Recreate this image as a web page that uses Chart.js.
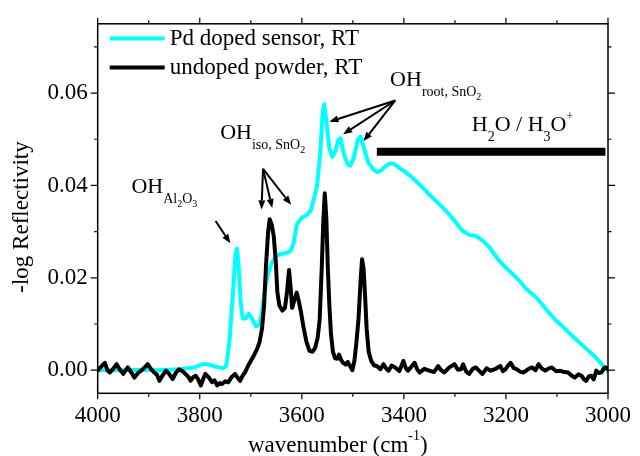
<!DOCTYPE html>
<html>
<head>
<meta charset="utf-8">
<script src="https://cdn.jsdelivr.net/npm/chart.js@4"></script>
<style>
  body { margin: 0; background: #fff; }
  #wrap { width: 640px; height: 456px; }
</style>
</head>
<body>
<div id="wrap"><canvas id="spectra" width="640" height="456"></canvas></div>
<script>
// values
var pdWavenumber = [4000, 3960, 3920, 3880, 3840, 3810, 3795, 3785, 3770, 3755, 3748, 3742, 3736, 3730, 3727, 3724, 3720, 3716, 3710, 3704, 3698, 3690, 3684, 3678, 3672, 3666, 3660, 3650, 3640, 3630, 3622, 3616, 3610, 3600, 3590, 3583, 3576, 3570, 3564, 3559, 3556, 3552, 3546, 3540, 3534, 3528, 3524, 3518, 3510, 3505, 3498, 3490, 3485, 3478, 3470, 3460, 3452, 3444, 3436, 3426, 3418, 3408, 3398, 3388, 3375, 3362, 3350, 3336, 3322, 3311, 3298, 3285, 3272, 3260, 3246, 3233, 3222, 3214, 3200, 3182, 3170, 3162, 3150, 3140, 3128, 3117, 3104, 3091, 3078, 3065, 3052, 3040, 3030, 3020, 3010, 3004, 3000];
var pdSignal = [0.0000, 0.0000, 0.0001, 0.0000, 0.0002, 0.0006, 0.0013, 0.0013, 0.0008, 0.0004, 0.0010, 0.0060, 0.0150, 0.0250, 0.0263, 0.0230, 0.0150, 0.0112, 0.0112, 0.0122, 0.0112, 0.0095, 0.0098, 0.0125, 0.0180, 0.0208, 0.0230, 0.0248, 0.0252, 0.0254, 0.0258, 0.0275, 0.0315, 0.0330, 0.0336, 0.0345, 0.0372, 0.0400, 0.0470, 0.0560, 0.0576, 0.0540, 0.0480, 0.0462, 0.0475, 0.0500, 0.0502, 0.0470, 0.0445, 0.0443, 0.0460, 0.0500, 0.0506, 0.0480, 0.0450, 0.0435, 0.0429, 0.0433, 0.0442, 0.0448, 0.0446, 0.0437, 0.0430, 0.0421, 0.0408, 0.0394, 0.0380, 0.0365, 0.0350, 0.0337, 0.0320, 0.0302, 0.0293, 0.0291, 0.0281, 0.0267, 0.0250, 0.0238, 0.0222, 0.0203, 0.0189, 0.0178, 0.0166, 0.0157, 0.0141, 0.0126, 0.0110, 0.0097, 0.0083, 0.0069, 0.0056, 0.0044, 0.0034, 0.0023, 0.0010, 0.0003, -0.0003];

var undopedWavenumber = [4000, 3993, 3986, 3981, 3976, 3969, 3963, 3957, 3950, 3945, 3941, 3934, 3928, 3921, 3915, 3908, 3902, 3895, 3889, 3884, 3879, 3872, 3866, 3860, 3853, 3847, 3841, 3834, 3828, 3822, 3818, 3813, 3808, 3803, 3798, 3793, 3789, 3782, 3776, 3771, 3766, 3761, 3757, 3750, 3744, 3737, 3731, 3726, 3721, 3716, 3711, 3706, 3700, 3694, 3688, 3683, 3678, 3674, 3670, 3666, 3663, 3659, 3655, 3651, 3648, 3644, 3638, 3633, 3629, 3625, 3622, 3619, 3615, 3610, 3606, 3602, 3597, 3591, 3585, 3579, 3574, 3569, 3565, 3561, 3558, 3555, 3552, 3549, 3546, 3543, 3539, 3535, 3530, 3527, 3523, 3519, 3514, 3510, 3505, 3501, 3497, 3493, 3489, 3485, 3482, 3479, 3476, 3473, 3469, 3464, 3458, 3453, 3446, 3440, 3435, 3430, 3424, 3417, 3409, 3401, 3396, 3392, 3385, 3379, 3374, 3369, 3360, 3350, 3341, 3333, 3327, 3321, 3311, 3301, 3294, 3288, 3284, 3278, 3272, 3265, 3259, 3252, 3246, 3238, 3230, 3220, 3211, 3206, 3201, 3196, 3191, 3185, 3179, 3172, 3166, 3157, 3149, 3142, 3136, 3130, 3123, 3116, 3110, 3102, 3094, 3086, 3078, 3071, 3065, 3058, 3052, 3047, 3043, 3038, 3033, 3028, 3023, 3018, 3013, 3008, 3004, 3000];
var undopedSignal = [-0.0001, 0.0008, 0.0016, 0.0000, -0.0005, 0.0004, 0.0013, 0.0002, -0.0008, 0.0000, 0.0006, -0.0005, -0.0016, -0.0006, -0.0001, 0.0006, 0.0013, 0.0002, -0.0005, -0.0010, -0.0023, -0.0010, -0.0001, -0.0008, -0.0019, -0.0006, 0.0002, -0.0002, -0.0008, -0.0015, -0.0023, -0.0015, -0.0012, -0.0020, -0.0033, -0.0018, -0.0008, -0.0016, -0.0026, -0.0022, -0.0033, -0.0028, -0.0030, -0.0024, -0.0026, -0.0014, -0.0008, -0.0016, -0.0023, -0.0012, -0.0004, 0.0008, 0.0020, 0.0032, 0.0045, 0.0060, 0.0090, 0.0140, 0.0230, 0.0300, 0.0327, 0.0315, 0.0290, 0.0235, 0.0170, 0.0140, 0.0129, 0.0135, 0.0170, 0.0217, 0.0180, 0.0135, 0.0150, 0.0168, 0.0150, 0.0128, 0.0095, 0.0062, 0.0042, 0.0040, 0.0048, 0.0070, 0.0110, 0.0220, 0.0320, 0.0383, 0.0330, 0.0220, 0.0140, 0.0080, 0.0040, 0.0026, 0.0025, 0.0034, 0.0022, 0.0016, 0.0012, 0.0018, 0.0008, 0.0000, 0.0020, 0.0060, 0.0110, 0.0190, 0.0240, 0.0220, 0.0160, 0.0090, 0.0040, 0.0020, 0.0010, 0.0009, 0.0002, 0.0013, 0.0004, -0.0001, 0.0010, 0.0006, -0.0002, 0.0020, 0.0004, -0.0001, 0.0008, 0.0016, 0.0002, -0.0005, 0.0003, -0.0001, -0.0004, 0.0009, 0.0000, -0.0005, 0.0006, 0.0013, 0.0001, 0.0002, 0.0013, -0.0003, -0.0008, 0.0003, 0.0006, -0.0002, -0.0008, 0.0004, -0.0001, 0.0003, 0.0009, -0.0002, 0.0002, 0.0010, 0.0016, 0.0005, 0.0002, -0.0003, -0.0005, 0.0002, 0.0006, 0.0000, 0.0013, 0.0004, -0.0001, 0.0004, 0.0006, -0.0002, -0.0001, -0.0004, -0.0005, -0.0012, -0.0016, -0.0009, -0.0012, -0.0020, -0.0023, -0.0014, -0.0012, -0.0020, -0.0001, -0.0006, -0.0005, 0.0004, 0.0006, 0.0002];

var xTicks = [4000, 3800, 3600, 3400, 3200, 3000];
var yTicks = [0, 0.02, 0.04, 0.06];

// annotations, in data units (wavenumber, value)
var arrows = [
  [3769, 0.0323, 3740, 0.0275],
  [3676, 0.0436, 3679, 0.0348],
  [3676, 0.0436, 3658, 0.0351],
  [3676, 0.0436, 3621, 0.0358],
  [3417, 0.0584, 3546, 0.0538],
  [3417, 0.0584, 3519, 0.0511],
  [3417, 0.0584, 3479, 0.0496]
];
var waterBand = [3453, 3005, 0.0473];
var notes = [
  [3934, 0.0384, [['OH', 'n'], ['Al', 's'], ['2', 'ss'], ['O', 's'], ['3', 'ss']]],
  [3760, 0.0500, [['OH', 'n'], ['iso, SnO', 's'], ['2', 'ss']]],
  [3427, 0.0616, [['OH', 'n'], ['root, SnO', 's'], ['2', 'ss']]],
  [3267, 0.0517, [['H', 'n'], ['2', 's'], ['O / H', 'n'], ['3', 's'], ['O', 'n'], ['+', 'sup']]]
];

var serif = 'Liberation Serif';
Chart.defaults.font.family = serif;

function pairs(xs, ys) {
  return xs.map(function (x, i) { return { x: x, y: ys[i] }; });
}

function richText(ctx, x, y, parts) {
  var styles = {
    n: { size: 22, dy: 0 },
    s: { size: 14, dy: 10 },
    ss: { size: 10, dy: 14 },
    sup: { size: 12, dy: -11 }
  };
  ctx.textAlign = 'left';
  ctx.textBaseline = 'alphabetic';
  parts.forEach(function (p) {
    var st = styles[p[1]];
    ctx.font = st.size + 'px "' + serif + '"';
    ctx.fillText(p[0], x, y + st.dy);
    x += ctx.measureText(p[0]).width;
  });
}

var decorations = {
  id: 'decorations',
  afterDatasetsDraw: function (chart) {
    var ctx = chart.ctx;
    var a = chart.chartArea;
    var xs = chart.scales.x, ys = chart.scales.y;
    ctx.save();
    ctx.strokeStyle = '#000';
    ctx.fillStyle = '#000';

    // frame
    ctx.lineWidth = 1.5;
    ctx.strokeRect(a.left, a.top, a.right - a.left, a.bottom - a.top);

    // tick marks on all four sides
    ctx.lineWidth = 1.2;
    ctx.beginPath();
    for (var w = 3000; w <= 4000; w += 100) {
      var px = xs.getPixelForValue(w);
      var len = (w % 200 === 0) ? 6 : 3.5;
      ctx.moveTo(px, a.bottom); ctx.lineTo(px, a.bottom + len);
      ctx.moveTo(px, a.top); ctx.lineTo(px, a.top - len);
    }
    for (var k = 0; k <= 7; k++) {
      var py = ys.getPixelForValue(k / 100);
      var l2 = (k % 2 === 0) ? 7 : 3.5;
      ctx.moveTo(a.left, py); ctx.lineTo(a.left - l2, py);
      ctx.moveTo(a.right, py); ctx.lineTo(a.right + l2, py);
    }
    ctx.stroke();

    // legend
    var order = [1, 0];
    order.forEach(function (di, row) {
      var ds = chart.data.datasets[di];
      var ly = a.top + 14.6 + row * 29;
      ctx.strokeStyle = ds.borderColor;
      ctx.lineWidth = 4;
      ctx.beginPath();
      ctx.moveTo(a.left + 12, ly); ctx.lineTo(a.left + 67, ly);
      ctx.stroke();
      ctx.fillStyle = '#000';
      ctx.font = '23px "' + serif + '"';
      ctx.textAlign = 'left';
      ctx.textBaseline = 'middle';
      ctx.fillText(ds.label, a.left + 72, ly + 1);
    });

    // water band bar
    ctx.strokeStyle = '#000';
    ctx.lineWidth = 8;
    ctx.beginPath();
    ctx.moveTo(xs.getPixelForValue(waterBand[0]), ys.getPixelForValue(waterBand[2]));
    ctx.lineTo(xs.getPixelForValue(waterBand[1]), ys.getPixelForValue(waterBand[2]));
    ctx.stroke();

    // arrows
    arrows.forEach(function (r) {
      var x1 = xs.getPixelForValue(r[0]), y1 = ys.getPixelForValue(r[1]);
      var x2 = xs.getPixelForValue(r[2]), y2 = ys.getPixelForValue(r[3]);
      var ang = Math.atan2(y2 - y1, x2 - x1);
      var hl = 9, hw = 3.5;
      ctx.lineWidth = 2;
      ctx.beginPath();
      ctx.moveTo(x1, y1);
      ctx.lineTo(x2 - hl * Math.cos(ang), y2 - hl * Math.sin(ang));
      ctx.stroke();
      ctx.beginPath();
      ctx.moveTo(x2, y2);
      ctx.lineTo(x2 - hl * Math.cos(ang) + hw * Math.sin(ang), y2 - hl * Math.sin(ang) - hw * Math.cos(ang));
      ctx.lineTo(x2 - hl * Math.cos(ang) - hw * Math.sin(ang), y2 - hl * Math.sin(ang) + hw * Math.cos(ang));
      ctx.closePath();
      ctx.fill();
    });

    // labels
    ctx.fillStyle = '#000';
    notes.forEach(function (n) {
      richText(ctx, xs.getPixelForValue(n[0]), ys.getPixelForValue(n[1]), n[2]);
    });

    // axis titles
    ctx.font = '23px "' + serif + '"';
    ctx.textAlign = 'left';
    ctx.textBaseline = 'alphabetic';
    var t1 = 'wavenumber (cm';
    var tx = 248, tyy = 452;
    ctx.fillText(t1, tx, tyy);
    tx += ctx.measureText(t1).width;
    ctx.font = '14px "' + serif + '"';
    ctx.fillText('-1', tx, tyy - 12);
    tx += ctx.measureText('-1').width;
    ctx.font = '23px "' + serif + '"';
    ctx.fillText(')', tx, tyy);

    ctx.translate(22, 217);
    ctx.rotate(-Math.PI / 2);
    ctx.textAlign = 'center';
    ctx.textBaseline = 'middle';
    ctx.fillText('-log Reflectivity', 0, 0);
    ctx.restore();
  }
};

var ctx = document.getElementById('spectra');
var spectra = new Chart(ctx, {
  type: 'line',
  data: {
    datasets: [{
      label: 'undoped powder, RT',
      data: pairs(undopedWavenumber, undopedSignal),
      borderColor: '#000000',
      borderWidth: 4,
      pointRadius: 0,
      tension: 0,
      order: 0
    }, {
      label: 'Pd doped sensor, RT',
      data: pairs(pdWavenumber, pdSignal),
      borderColor: '#00ffff',
      borderWidth: 4,
      pointRadius: 0,
      tension: 0,
      order: 1
    }]
  },
  options: {
    responsive: false,
    animation: false,
    layout: { padding: { top: 14.7, right: 26.7, left: 0, bottom: 0 } },
    plugins: { legend: { display: false }, tooltip: { enabled: false } },
    elements: { line: { borderJoinStyle: 'round', borderCapStyle: 'round' } },
    scales: {
      x: {
        type: 'linear',
        reverse: true,
        min: 3000,
        max: 4000,
        afterBuildTicks: function (s) { s.ticks = xTicks.map(function (v) { return { value: v }; }); },
        afterFit: function (s) { s.height = 62.7; },
        grid: { display: false, drawTicks: false },
        border: { display: false },
        ticks: {
          color: '#000',
          font: { family: serif, size: 23 },
          padding: 9,
          maxRotation: 0,
          autoSkip: false,
          callback: function (v) { return String(v); }
        }
      },
      y: {
        min: -0.005,
        max: 0.075,
        afterBuildTicks: function (s) { s.ticks = yTicks.map(function (v) { return { value: v }; }); },
        afterFit: function (s) { s.width = 97.7; },
        grid: { display: false, drawTicks: false },
        border: { display: false },
        ticks: {
          color: '#000',
          font: { family: serif, size: 23 },
          padding: 10,
          callback: function (v) { return v.toFixed(2); }
        }
      }
    }
  },
  plugins: [decorations]
});
</script>
</body>
</html>
